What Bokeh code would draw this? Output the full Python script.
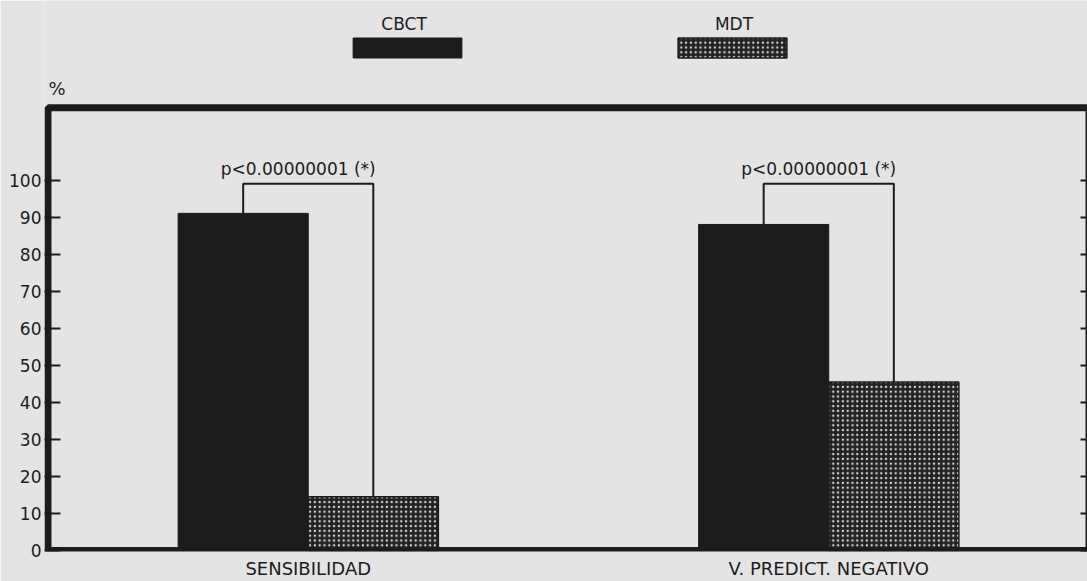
from bokeh.plotting import figure
from bokeh.models import Range1d, FixedTicker, LinearAxis, Legend, LegendItem, Label, BoxAnnotation
from bokeh.core.properties import value
from bokeh.embed import file_html
from bokeh.resources import INLINE

# ---- data ----
categories = ["SENSIBILIDAD", "V. PREDICT. NEGATIVO"]
series = ["CBCT", "MDT"]
cbct = [91, 88]
mdt = [14.5, 45.5]
p_labels = ["p<0.00000001 (*)", "p<0.00000001 (*)"]
bracket_y = [99, 99]
y_ticks = [0, 10, 20, 30, 40, 50, 60, 70, 80, 90, 100]
unit_label = "%"

# ---- style / layout ----
BG = "#e4e4e4"
INK = "#1c1c1c"
FONT = "DejaVu Sans"
FRAME_TOP = 119.5          # value at which the drawn box closes
X_SPAN = 2 * len(categories)

centers = [2 * i + 1 for i in range(len(categories))]
cbct_x = [c - 0.25 for c in centers]
mdt_x = [c + 0.25 for c in centers]

p = figure(width=1087, height=581,
           x_range=Range1d(-0.0134, X_SPAN - 0.0058), y_range=Range1d(-0.27, 148.45),
           output_backend="svg", toolbar_location=None,
           min_border_left=44, min_border_right=0, min_border_top=0, min_border_bottom=30,
           background_fill_color=BG, border_fill_color=BG,
           outline_line_color=None)
p.grid.visible = False

# x axis: category names
xa = p.xaxis[0]
xa.ticker = FixedTicker(ticks=centers)
xa.major_label_overrides = {c: name for c, name in zip(centers, categories)}
xa.major_tick_line_color = None
xa.major_tick_out = 0
xa.major_tick_in = 0
xa.minor_tick_line_color = None
xa.axis_line_color = None
xa.major_label_standoff = 6
xa.major_label_text_font = FONT
xa.major_label_text_font_size = "18px"
xa.major_label_text_color = INK

# left y axis
ya = p.yaxis[0]
ya.ticker = FixedTicker(ticks=y_ticks)
ya.major_tick_in = 16
ya.major_tick_out = 0
ya.major_tick_line_width = 2
ya.major_tick_line_color = INK
ya.minor_tick_line_color = None
ya.axis_line_color = None
ya.major_label_standoff = 3
ya.major_label_text_font = FONT
ya.major_label_text_font_size = "17px"
ya.major_label_text_color = INK

# right y axis: inward ticks only
ra = LinearAxis(ticker=FixedTicker(ticks=y_ticks), major_tick_in=7, major_tick_out=0,
                major_tick_line_width=2, major_tick_line_color=INK,
                minor_tick_line_color=None, axis_line_color=None,
                major_label_text_font_size="0px", major_label_standoff=0)
ra.major_label_overrides = {t: "" for t in y_ticks}
p.add_layout(ra, "right")

# bars
r1 = p.vbar(x=cbct_x, top=cbct, bottom=0, width=0.5,
            fill_color=INK, line_color=INK, line_width=1)
r2 = p.vbar(x=mdt_x, top=mdt, bottom=0, width=0.5,
            fill_color="#222222", hatch_pattern="dot", hatch_color="#d0d0d0",
            hatch_scale=4.8, hatch_weight=1, line_color=INK, line_width=1.5)

# thick box around the plotting area
p.add_layout(BoxAnnotation(left=0, right=X_SPAN, bottom=0, top=FRAME_TOP,
                           fill_alpha=0, line_color=INK, line_alpha=1, line_width=7))

# significance brackets
xs = [[a, a, b, b] for a, b in zip(cbct_x, mdt_x)]
ys = [[c, y, y, m] for c, m, y in zip(cbct, mdt, bracket_y)]
p.multi_line(xs, ys, line_color=INK, line_width=2)
p.text(x=centers, y=bracket_y, text=p_labels, x_offset=-10, y_offset=-15,
       text_align="center", text_baseline="alphabetic",
       text_font=value(FONT), text_font_size="17px", text_color=INK)

# legend swatches (names drawn above them)
legend = Legend(items=[LegendItem(label=value(" "), renderers=[r1]),
                       LegendItem(label=value(" "), renderers=[r2])],
                orientation="horizontal", location=(295, 491),
                glyph_width=136, glyph_height=25, label_standoff=0, label_width=0,
                label_text_font_size="1px", spacing=189,
                padding=0, margin=0, border_line_color=None, background_fill_alpha=0)
p.add_layout(legend, "center")

legend_name_x = [1.368, 2.636]
for name, lx in zip(series, legend_name_x):
    p.add_layout(Label(x=lx, y=142.1, text=name,
                       text_align="center", text_baseline="alphabetic",
                       text_font=FONT, text_font_size="17px", text_color=INK))

p.add_layout(Label(x=0.002, y=124.6, text=unit_label,
                   text_align="left", text_baseline="alphabetic",
                   text_font=FONT, text_font_size="18px", text_color=INK))

open("out.html", "w").write(file_html(p, INLINE))
